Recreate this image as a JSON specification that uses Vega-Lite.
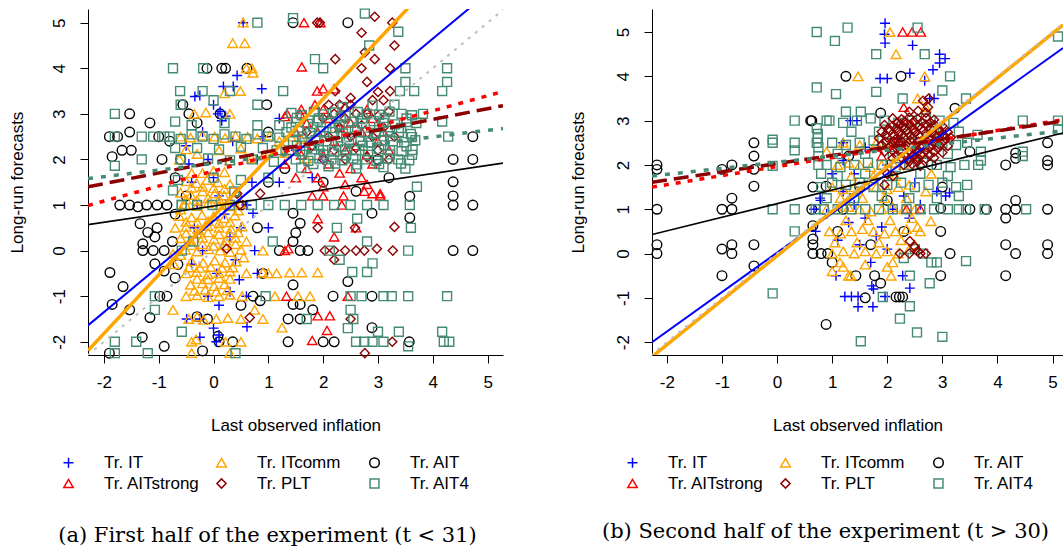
{
  "$schema": "https://vega.github.io/schema/vega-lite/v6.json",
  "background": "white",
  "padding": {"left": 8, "top": 6, "right": 0, "bottom": 0},
  "spacing": 149,
  "bounds": "flush",
  "config": {
    "view": {"stroke": null},
    "font": "Liberation Sans",
    "axis": {
      "grid": false, "domainColor": "black", "tickColor": "black", "labelColor": "black", "titleColor": "black",
      "labelFont": "Liberation Sans", "titleFont": "Liberation Sans",
      "labelFontSize": 17, "titleFontSize": 17, "titleFontWeight": "normal",
      "tickSize": 8, "domainWidth": 1, "tickWidth": 1, "labelFlush": false, "labelOverlap": false
    },
    "legend": {
      "title": null, "orient": "none", "legendX": -28, "legendY": 445, "columns": 3, "direction": "horizontal",
      "symbolSize": 80, "symbolStrokeWidth": 1.5, "labelFontSize": 17, "labelFont": "Liberation Sans", "labelColor": "black",
      "labelOffset": 27, "columnPadding": 13, "rowPadding": 3, "gridAlign": "all", "padding": 0, "labelLimit": 250
    },
    "title": {"font": "DejaVu Serif", "fontSize": 21, "fontWeight": "normal", "color": "black"}
  },
  "resolve": {
    "scale": {"color": "independent", "shape": "independent", "size": "independent", "opacity": "independent"},
    "legend": {"color": "independent", "shape": "independent"}
  },
  "datasets": {
    "a": [
      {"t":"AIT","x":-0.12,"y":4},{"t":"AIT","x":0.15,"y":4},{"t":"AIT","x":0.22,"y":4},{"t":"AIT","x":0.61,"y":4},
      {"t":"AIT","x":-1.53,"y":3},{"t":"AIT","x":-1.9,"y":2.5},{"t":"AIT","x":-1.75,"y":2.5},{"t":"AIT","x":-1.53,"y":2.6},
      {"t":"AIT","x":-1.85,"y":2.06},{"t":"AIT","x":-1.67,"y":2.2},{"t":"AIT","x":-1.5,"y":2.2},{"t":"AIT","x":-1.16,"y":2.8},
      {"t":"AIT","x":-0.94,"y":2.0},{"t":"AIT","x":-0.56,"y":3.2},{"t":"AIT","x":-0.45,"y":3.0},{"t":"AIT","x":0.12,"y":3.0},
      {"t":"AIT","x":-1.89,"y":-0.48},{"t":"AIT","x":-1.65,"y":-0.79},{"t":"AIT","x":-1.85,"y":-1.18},{"t":"AIT","x":-1.53,"y":-1.3},
      {"t":"AIT","x":-1.16,"y":-1.47},{"t":"AIT","x":-1.38,"y":0.96},{"t":"AIT","x":-1.71,"y":1.0},{"t":"AIT","x":-1.53,"y":1.0},
      {"t":"AIT","x":-1.22,"y":1.0},{"t":"AIT","x":-1.03,"y":1.0},{"t":"AIT","x":-0.85,"y":1.0},{"t":"AIT","x":-1.34,"y":0.59},
      {"t":"AIT","x":-1.03,"y":0.5},{"t":"AIT","x":-1.2,"y":0.4},{"t":"AIT","x":-1.07,"y":0.3},{"t":"AIT","x":-1.29,"y":0.15},
      {"t":"AIT","x":-1.29,"y":0.0},{"t":"AIT","x":-1.1,"y":0.0},{"t":"AIT","x":-0.9,"y":0.0},{"t":"AIT","x":-1.07,"y":-0.29},
      {"t":"AIT","x":-0.9,"y":-0.45},{"t":"AIT","x":-0.98,"y":-1.0},{"t":"AIT","x":-0.85,"y":-1.0},{"t":"AIT","x":-0.3,"y":-1.45},
      {"t":"AIT","x":-0.11,"y":-1.5},{"t":"AIT","x":0.08,"y":-1.88},{"t":"AIT","x":0.35,"y":-2.0},{"t":"AIT","x":-0.2,"y":-2.2},
      {"t":"AIT","x":4.37,"y":1.51},{"t":"AIT","x":4.37,"y":1.2},{"t":"AIT","x":4.37,"y":1.0},{"t":"AIT","x":4.73,"y":1.0},
      {"t":"AIT","x":3.58,"y":1.19},{"t":"AIT","x":3.58,"y":0.72},{"t":"AIT","x":2.89,"y":0.82},{"t":"AIT","x":1.58,"y":0.6},
      {"t":"AIT","x":1.45,"y":0.82},{"t":"AIT","x":1.5,"y":0.39},{"t":"AIT","x":1.45,"y":0.2},{"t":"AIT","x":1.58,"y":0.0},
      {"t":"AIT","x":1.72,"y":0.0},{"t":"AIT","x":4.37,"y":0.0},{"t":"AIT","x":4.73,"y":0.0},{"t":"AIT","x":2.45,"y":-0.68},
      {"t":"AIT","x":1.45,"y":-0.75},{"t":"AIT","x":2.18,"y":-1.0},{"t":"AIT","x":2.89,"y":-1.0},{"t":"AIT","x":0.72,"y":-1.0},
      {"t":"AIT","x":0.85,"y":-1.1},{"t":"AIT","x":1.45,"y":-1.18},{"t":"AIT","x":1.58,"y":-1.18},{"t":"AIT","x":1.81,"y":-1.3},
      {"t":"AIT","x":1.36,"y":-1.5},{"t":"AIT","x":1.58,"y":-1.5},{"t":"AIT","x":2.89,"y":-1.69},{"t":"AIT","x":1.36,"y":-2.0},
      {"t":"AIT","x":2.0,"y":-2.0},{"t":"AIT","x":2.2,"y":-2.0},{"t":"AIT","x":3.57,"y":-2.0},{"t":"AIT","x":0.1,"y":-2.0},
      {"t":"AIT","x":2.45,"y":5.0},{"t":"AIT","x":1.45,"y":5.0},{"t":"AIT","x":0.97,"y":3.2},{"t":"AIT","x":4.73,"y":2.5},
      {"t":"AIT","x":4.37,"y":2.0},{"t":"AIT","x":4.73,"y":2.0},{"t":"AIT","x":-0.6,"y":2.0},{"t":"AIT","x":-0.7,"y":1.6},
      {"t":"AIT","x":-0.5,"y":1.2},{"t":"AIT","x":-0.7,"y":0.8},{"t":"AIT","x":-0.8,"y":2.4},{"t":"AIT","x":-1.0,"y":2.5},
      {"t":"AIT","x":-0.3,"y":2.8},{"t":"AIT","x":0.5,"y":1.0},{"t":"AIT","x":0.8,"y":0.5},{"t":"AIT","x":1.0,"y":1.5},
      {"t":"AIT","x":1.2,"y":0.0},{"t":"AIT","x":0.9,"y":-0.5},{"t":"AIT","x":0.5,"y":-1.2},{"t":"AIT","x":-0.65,"y":-0.3},
      {"t":"AIT","x":-0.7,"y":-0.6},{"t":"AIT","x":-0.75,"y":0.2},{"t":"AIT","x":1.3,"y":1.8},{"t":"AIT","x":1.0,"y":2.6},
      {"t":"AIT","x":2.0,"y":1.5},{"t":"AIT","x":2.6,"y":1.3},{"t":"AIT","x":3.2,"y":1.6},{"t":"AIT","x":3.0,"y":2.0},
      {"t":"AIT","x":-1.9,"y":-2.25},{"t":"AIT","x":-1.3,"y":-1.9},{"t":"AIT","x":-0.9,"y":-2.1},

      {"t":"IT","x":0.54,"y":5.0},{"t":"IT","x":0.43,"y":3.84},{"t":"IT","x":0.36,"y":3.6},{"t":"IT","x":0.18,"y":3.6},
      {"t":"IT","x":-0.34,"y":3.38},{"t":"IT","x":-0.25,"y":3.4},{"t":"IT","x":0.0,"y":3.2},{"t":"IT","x":0.08,"y":3.0},
      {"t":"IT","x":0.22,"y":2.95},{"t":"IT","x":0.88,"y":3.55},{"t":"IT","x":1.2,"y":2.9},{"t":"IT","x":0.12,"y":3.05},
      {"t":"IT","x":0.15,"y":2.85},{"t":"IT","x":-0.5,"y":2.3},{"t":"IT","x":-0.45,"y":1.9},{"t":"IT","x":-0.4,"y":1.5},
      {"t":"IT","x":-0.3,"y":1.0},{"t":"IT","x":-0.35,"y":0.5},{"t":"IT","x":-0.2,"y":0.0},{"t":"IT","x":-0.4,"y":-0.3},
      {"t":"IT","x":-0.1,"y":2.0},{"t":"IT","x":0.0,"y":1.6},{"t":"IT","x":0.1,"y":1.2},{"t":"IT","x":0.2,"y":0.8},
      {"t":"IT","x":0.3,"y":0.3},{"t":"IT","x":0.4,"y":-0.2},{"t":"IT","x":0.5,"y":0.5},{"t":"IT","x":0.6,"y":1.0},
      {"t":"IT","x":0.7,"y":1.5},{"t":"IT","x":0.8,"y":2.0},{"t":"IT","x":0.9,"y":2.5},{"t":"IT","x":0.06,"y":-0.5},
      {"t":"IT","x":0.47,"y":-0.64},{"t":"IT","x":0.3,"y":-0.9},{"t":"IT","x":-0.1,"y":-1.0},{"t":"IT","x":0.1,"y":-1.2},
      {"t":"IT","x":-0.49,"y":-1.5},{"t":"IT","x":-0.25,"y":-1.5},{"t":"IT","x":0.0,"y":-1.7},{"t":"IT","x":-0.25,"y":-1.9},
      {"t":"IT","x":0.05,"y":-2.0},{"t":"IT","x":0.1,"y":-1.85},{"t":"IT","x":0.61,"y":-1.67},{"t":"IT","x":0.72,"y":0.82},
      {"t":"IT","x":0.75,"y":0.0},{"t":"IT","x":1.0,"y":0.5},{"t":"IT","x":1.2,"y":1.5},{"t":"IT","x":1.5,"y":2.2},
      {"t":"IT","x":2.5,"y":2.5},{"t":"IT","x":2.0,"y":2.0},{"t":"IT","x":1.8,"y":1.6},{"t":"IT","x":0.35,"y":2.4},
      {"t":"IT","x":-0.2,"y":2.6},{"t":"IT","x":0.6,"y":-1.0},{"t":"IT","x":0.8,"y":-0.5},

      {"t":"ITcomm","x":0.54,"y":5.0},{"t":"ITcomm","x":0.35,"y":4.55},{"t":"ITcomm","x":0.57,"y":4.55},{"t":"ITcomm","x":0.6,"y":4.0},
      {"t":"ITcomm","x":0.7,"y":4.0},{"t":"ITcomm","x":0.2,"y":3.45},{"t":"ITcomm","x":0.49,"y":3.5},{"t":"ITcomm","x":-0.35,"y":3.0},
      {"t":"ITcomm","x":-0.14,"y":3.03},{"t":"ITcomm","x":0.3,"y":3.0},{"t":"ITcomm","x":0.72,"y":3.9},
      {"t":"ITcomm","x":-0.6,"y":2.5},{"t":"ITcomm","x":-0.42,"y":2.48},{"t":"ITcomm","x":-0.2,"y":2.52},{"t":"ITcomm","x":0.02,"y":2.5},
      {"t":"ITcomm","x":0.21,"y":2.47},{"t":"ITcomm","x":0.4,"y":2.52},{"t":"ITcomm","x":0.62,"y":2.5},{"t":"ITcomm","x":0.8,"y":2.46},
      {"t":"ITcomm","x":1.02,"y":2.52},{"t":"ITcomm","x":1.2,"y":2.4},{"t":"ITcomm","x":1.41,"y":2.5},{"t":"ITcomm","x":1.6,"y":2.45},
      {"t":"ITcomm","x":-0.5,"y":2.22},{"t":"ITcomm","x":-0.3,"y":2.12},{"t":"ITcomm","x":0.1,"y":2.2},{"t":"ITcomm","x":0.5,"y":2.24},
      {"t":"ITcomm","x":0.92,"y":2.1},{"t":"ITcomm","x":1.3,"y":2.14},{"t":"ITcomm","x":1.7,"y":2.02},{"t":"ITcomm","x":-0.62,"y":2.0},
      {"t":"ITcomm","x":0.3,"y":1.98},{"t":"ITcomm","x":0.7,"y":2.02},
      {"t":"ITcomm","x":-0.5,"y":1.52},{"t":"ITcomm","x":-0.31,"y":1.48},{"t":"ITcomm","x":-0.12,"y":1.55},{"t":"ITcomm","x":0.08,"y":1.5},{"t":"ITcomm","x":0.3,"y":1.46},
      {"t":"ITcomm","x":-0.6,"y":1.27},{"t":"ITcomm","x":-0.41,"y":1.22},{"t":"ITcomm","x":-0.2,"y":1.3},{"t":"ITcomm","x":0.02,"y":1.25},{"t":"ITcomm","x":0.19,"y":1.21},{"t":"ITcomm","x":0.42,"y":1.28},
      {"t":"ITcomm","x":-0.52,"y":1.02},{"t":"ITcomm","x":-0.3,"y":0.98},{"t":"ITcomm","x":-0.1,"y":1.04},{"t":"ITcomm","x":0.11,"y":1.0},{"t":"ITcomm","x":0.31,"y":0.97},{"t":"ITcomm","x":0.5,"y":1.03},
      {"t":"ITcomm","x":-0.63,"y":0.76},{"t":"ITcomm","x":-0.4,"y":0.73},{"t":"ITcomm","x":-0.21,"y":0.78},{"t":"ITcomm","x":0.0,"y":0.75},{"t":"ITcomm","x":0.2,"y":0.71},{"t":"ITcomm","x":0.39,"y":0.77},
      {"t":"ITcomm","x":-0.5,"y":0.52},{"t":"ITcomm","x":-0.29,"y":0.48},{"t":"ITcomm","x":-0.11,"y":0.54},{"t":"ITcomm","x":0.1,"y":0.5},{"t":"ITcomm","x":0.32,"y":0.47},{"t":"ITcomm","x":0.52,"y":0.53},
      {"t":"ITcomm","x":-0.6,"y":0.27},{"t":"ITcomm","x":-0.42,"y":0.23},{"t":"ITcomm","x":-0.2,"y":0.28},{"t":"ITcomm","x":0.01,"y":0.25},{"t":"ITcomm","x":0.22,"y":0.22},{"t":"ITcomm","x":0.4,"y":0.28},
      {"t":"ITcomm","x":-0.51,"y":0.02},{"t":"ITcomm","x":-0.3,"y":-0.02},{"t":"ITcomm","x":-0.09,"y":0.03},{"t":"ITcomm","x":0.12,"y":0.0},{"t":"ITcomm","x":0.3,"y":-0.03},{"t":"ITcomm","x":0.5,"y":0.02},{"t":"ITcomm","x":0.9,"y":0.0},
      {"t":"ITcomm","x":-0.4,"y":-0.23},{"t":"ITcomm","x":-0.19,"y":-0.27},{"t":"ITcomm","x":0.02,"y":-0.22},{"t":"ITcomm","x":0.21,"y":-0.26},{"t":"ITcomm","x":0.41,"y":-0.24},
      {"t":"ITcomm","x":-0.5,"y":-0.5},{"t":"ITcomm","x":-0.31,"y":-0.47},{"t":"ITcomm","x":-0.1,"y":-0.52},{"t":"ITcomm","x":0.1,"y":-0.5},{"t":"ITcomm","x":0.3,"y":-0.46},{"t":"ITcomm","x":0.6,"y":-0.5},
      {"t":"ITcomm","x":0.9,"y":-0.48},{"t":"ITcomm","x":1.0,"y":-0.5},{"t":"ITcomm","x":1.15,"y":-0.5},{"t":"ITcomm","x":1.39,"y":-0.48},{"t":"ITcomm","x":1.61,"y":-0.48},{"t":"ITcomm","x":1.9,"y":-0.48},
      {"t":"ITcomm","x":-0.42,"y":-0.75},{"t":"ITcomm","x":-0.2,"y":-0.72},{"t":"ITcomm","x":0.01,"y":-0.78},{"t":"ITcomm","x":0.2,"y":-0.74},
      {"t":"ITcomm","x":-0.5,"y":-1.0},{"t":"ITcomm","x":-0.3,"y":-0.98},{"t":"ITcomm","x":-0.1,"y":-1.02},{"t":"ITcomm","x":0.1,"y":-1.0},{"t":"ITcomm","x":0.3,"y":-0.97},{"t":"ITcomm","x":0.52,"y":-1.0},
      {"t":"ITcomm","x":1.12,"y":-1.0},{"t":"ITcomm","x":1.54,"y":-1.0},{"t":"ITcomm","x":1.76,"y":-1.0},
      {"t":"ITcomm","x":-0.45,"y":-1.5},{"t":"ITcomm","x":-0.3,"y":-1.45},{"t":"ITcomm","x":-0.18,"y":-1.52},{"t":"ITcomm","x":0.05,"y":-1.5},{"t":"ITcomm","x":0.26,"y":-1.48},{"t":"ITcomm","x":0.5,"y":-1.5},
      {"t":"ITcomm","x":0.9,"y":-1.5},{"t":"ITcomm","x":0.75,"y":-1.3},{"t":"ITcomm","x":1.25,"y":-1.69},
      {"t":"ITcomm","x":-0.4,"y":-2.0},{"t":"ITcomm","x":-0.32,"y":-1.95},{"t":"ITcomm","x":0.22,"y":-2.0},{"t":"ITcomm","x":0.5,"y":-2.0},{"t":"ITcomm","x":-0.4,"y":-2.25},{"t":"ITcomm","x":0.3,"y":-2.25},
      {"t":"ITcomm","x":-0.74,"y":-0.07},{"t":"ITcomm","x":-0.72,"y":-0.3},{"t":"ITcomm","x":-0.74,"y":-1.3},{"t":"ITcomm","x":-0.7,"y":0.5},
      {"t":"ITcomm","x":-0.4,"y":1.38},{"t":"ITcomm","x":-0.2,"y":1.4},{"t":"ITcomm","x":0.0,"y":1.37},{"t":"ITcomm","x":0.2,"y":1.35},
      {"t":"ITcomm","x":-0.5,"y":1.12},{"t":"ITcomm","x":-0.3,"y":1.1},{"t":"ITcomm","x":-0.1,"y":1.15},{"t":"ITcomm","x":0.1,"y":1.12},{"t":"ITcomm","x":0.3,"y":1.1},
      {"t":"ITcomm","x":-0.5,"y":0.63},{"t":"ITcomm","x":-0.3,"y":0.62},{"t":"ITcomm","x":-0.1,"y":0.65},{"t":"ITcomm","x":0.1,"y":0.6},{"t":"ITcomm","x":0.3,"y":0.62},
      {"t":"ITcomm","x":-0.5,"y":0.38},{"t":"ITcomm","x":-0.3,"y":0.37},{"t":"ITcomm","x":-0.1,"y":0.4},{"t":"ITcomm","x":0.1,"y":0.36},{"t":"ITcomm","x":0.3,"y":0.38},
      {"t":"ITcomm","x":-0.4,"y":0.12},{"t":"ITcomm","x":-0.2,"y":0.14},{"t":"ITcomm","x":0.0,"y":0.1},{"t":"ITcomm","x":0.2,"y":0.12},{"t":"ITcomm","x":0.4,"y":0.14},
      {"t":"ITcomm","x":-0.45,"y":-0.37},{"t":"ITcomm","x":-0.25,"y":-0.38},{"t":"ITcomm","x":-0.05,"y":-0.36},{"t":"ITcomm","x":0.15,"y":-0.38},{"t":"ITcomm","x":0.35,"y":-0.37},
      {"t":"ITcomm","x":-0.3,"y":-0.62},{"t":"ITcomm","x":-0.1,"y":-0.63},{"t":"ITcomm","x":0.1,"y":-0.6},{"t":"ITcomm","x":0.3,"y":-0.62},
      {"t":"ITcomm","x":-0.35,"y":-0.88},{"t":"ITcomm","x":-0.15,"y":-0.86},{"t":"ITcomm","x":0.05,"y":-0.9},{"t":"ITcomm","x":0.25,"y":-0.87},
      {"t":"ITcomm","x":0.45,"y":0.88},{"t":"ITcomm","x":0.45,"y":0.4},{"t":"ITcomm","x":-0.6,"y":0.9},{"t":"ITcomm","x":-0.6,"y":-0.1},
      {"t":"ITcomm","x":0.55,"y":-0.15},{"t":"ITcomm","x":0.6,"y":0.2},{"t":"ITcomm","x":-0.2,"y":1.7},{"t":"ITcomm","x":0.0,"y":1.75},
      {"t":"ITcomm","x":0.2,"y":1.72},{"t":"ITcomm","x":-0.4,"y":1.7},

      {"t":"AITstrong","x":1.65,"y":5.0},{"t":"AITstrong","x":1.95,"y":5.0},{"t":"AITstrong","x":1.61,"y":4.03},{"t":"AITstrong","x":1.89,"y":3.5},
      {"t":"AITstrong","x":2.2,"y":3.55},{"t":"AITstrong","x":2.0,"y":3.55},{"t":"AITstrong","x":1.85,"y":3.2},{"t":"AITstrong","x":1.58,"y":3.0},
      {"t":"AITstrong","x":1.34,"y":3.0},{"t":"AITstrong","x":1.3,"y":2.94},{"t":"AITstrong","x":3.04,"y":1.25},{"t":"AITstrong","x":2.9,"y":1.25},
      {"t":"AITstrong","x":2.75,"y":1.3},{"t":"AITstrong","x":1.36,"y":0.04},{"t":"AITstrong","x":1.3,"y":0.0},{"t":"AITstrong","x":1.8,"y":1.2},
      {"t":"AITstrong","x":2.0,"y":1.2},{"t":"AITstrong","x":2.37,"y":1.2},{"t":"AITstrong","x":3.04,"y":1.2},{"t":"AITstrong","x":2.34,"y":1.0},
      {"t":"AITstrong","x":1.33,"y":-1.0},{"t":"AITstrong","x":2.45,"y":-1.0},{"t":"AITstrong","x":1.9,"y":-1.43},{"t":"AITstrong","x":2.12,"y":-1.43},
      {"t":"AITstrong","x":2.07,"y":-1.75},{"t":"AITstrong","x":1.8,"y":-1.97},{"t":"AITstrong","x":2.2,"y":0.3},{"t":"AITstrong","x":2.6,"y":0.5},
      {"t":"AITstrong","x":1.9,"y":0.7},
      {"t":"AITstrong","x":1.5,"y":1.6},{"t":"AITstrong","x":1.7,"y":1.8},{"t":"AITstrong","x":1.9,"y":1.6},{"t":"AITstrong","x":2.1,"y":1.9},
      {"t":"AITstrong","x":2.3,"y":1.7},{"t":"AITstrong","x":2.5,"y":1.8},{"t":"AITstrong","x":2.7,"y":1.6},{"t":"AITstrong","x":2.9,"y":1.9},
      {"t":"AITstrong","x":1.6,"y":2.1},{"t":"AITstrong","x":1.8,"y":2.3},{"t":"AITstrong","x":2.0,"y":2.1},{"t":"AITstrong","x":2.2,"y":2.4},
      {"t":"AITstrong","x":2.4,"y":2.2},{"t":"AITstrong","x":2.6,"y":2.3},{"t":"AITstrong","x":2.8,"y":2.1},{"t":"AITstrong","x":3.0,"y":2.4},
      {"t":"AITstrong","x":1.5,"y":2.6},{"t":"AITstrong","x":1.7,"y":2.8},{"t":"AITstrong","x":1.9,"y":2.6},{"t":"AITstrong","x":2.1,"y":2.9},
      {"t":"AITstrong","x":2.3,"y":2.7},{"t":"AITstrong","x":2.5,"y":2.8},{"t":"AITstrong","x":2.7,"y":2.6},{"t":"AITstrong","x":2.9,"y":2.9},
      {"t":"AITstrong","x":1.6,"y":3.1},{"t":"AITstrong","x":2.0,"y":3.1},{"t":"AITstrong","x":2.4,"y":3.15},{"t":"AITstrong","x":2.8,"y":3.1},
      {"t":"AITstrong","x":1.4,"y":2.2},{"t":"AITstrong","x":1.3,"y":1.9},{"t":"AITstrong","x":3.1,"y":2.6},{"t":"AITstrong","x":3.2,"y":2.2},
      {"t":"AITstrong","x":2.0,"y":1.4},{"t":"AITstrong","x":2.4,"y":1.45},{"t":"AITstrong","x":2.8,"y":1.45},

      {"t":"PLT","x":1.89,"y":5.0},{"t":"PLT","x":1.94,"y":5.0},{"t":"PLT","x":2.94,"y":5.13},{"t":"PLT","x":3.26,"y":5.0},
      {"t":"PLT","x":2.7,"y":4.78},{"t":"PLT","x":3.3,"y":4.5},{"t":"PLT","x":2.22,"y":4.2},{"t":"PLT","x":2.94,"y":4.2},
      {"t":"PLT","x":2.76,"y":4.35},{"t":"PLT","x":2.8,"y":3.7},{"t":"PLT","x":3.0,"y":3.48},{"t":"PLT","x":3.22,"y":3.5},
      {"t":"PLT","x":3.22,"y":4.0},{"t":"PLT","x":2.7,"y":4.0},{"t":"PLT","x":2.22,"y":3.5},{"t":"PLT","x":2.1,"y":3.2},
      {"t":"PLT","x":2.3,"y":3.2},{"t":"PLT","x":2.5,"y":3.2},{"t":"PLT","x":2.03,"y":0.0},{"t":"PLT","x":2.2,"y":0.0},
      {"t":"PLT","x":2.4,"y":0.0},{"t":"PLT","x":2.6,"y":0.0},{"t":"PLT","x":2.75,"y":0.0},{"t":"PLT","x":3.27,"y":0.0},
      {"t":"PLT","x":2.98,"y":0.04},{"t":"PLT","x":2.58,"y":0.5},{"t":"PLT","x":3.3,"y":0.52},{"t":"PLT","x":2.5,"y":-1.5},
      {"t":"PLT","x":3.26,"y":-2.0},{"t":"PLT","x":2.76,"y":-2.25},{"t":"PLT","x":0.24,"y":0.04},{"t":"PLT","x":0.43,"y":1.25},
      {"t":"PLT","x":0.85,"y":1.25},{"t":"PLT","x":0.66,"y":-1.47},{"t":"PLT","x":0.48,"y":1.0},{"t":"PLT","x":1.9,"y":0.5},
      {"t":"PLT","x":2.2,"y":-0.2},
      {"t":"PLT","x":2.0,"y":2.0},{"t":"PLT","x":2.2,"y":2.2},{"t":"PLT","x":2.4,"y":2.0},{"t":"PLT","x":2.6,"y":2.25},
      {"t":"PLT","x":2.8,"y":2.05},{"t":"PLT","x":3.0,"y":2.2},{"t":"PLT","x":3.2,"y":2.0},{"t":"PLT","x":2.1,"y":2.5},
      {"t":"PLT","x":2.3,"y":2.7},{"t":"PLT","x":2.5,"y":2.5},{"t":"PLT","x":2.7,"y":2.75},{"t":"PLT","x":2.9,"y":2.5},
      {"t":"PLT","x":3.1,"y":2.7},{"t":"PLT","x":3.3,"y":2.5},{"t":"PLT","x":2.0,"y":2.9},{"t":"PLT","x":2.2,"y":3.0},
      {"t":"PLT","x":2.4,"y":2.9},{"t":"PLT","x":2.6,"y":3.0},{"t":"PLT","x":2.8,"y":3.0},{"t":"PLT","x":3.0,"y":2.95},
      {"t":"PLT","x":3.2,"y":3.05},{"t":"PLT","x":1.8,"y":2.3},{"t":"PLT","x":1.7,"y":2.6},{"t":"PLT","x":2.5,"y":3.35},
      {"t":"PLT","x":2.9,"y":3.3},{"t":"PLT","x":3.1,"y":3.3},

      {"t":"AIT4","x":1.42,"y":3.02},{"t":"AIT4","x":1.61,"y":2.97},{"t":"AIT4","x":1.83,"y":3.05},{"t":"AIT4","x":2.01,"y":2.99},
      {"t":"AIT4","x":2.22,"y":3.03},{"t":"AIT4","x":2.41,"y":2.96},{"t":"AIT4","x":2.63,"y":3.04},{"t":"AIT4","x":2.8,"y":3.0},
      {"t":"AIT4","x":3.02,"y":2.98},{"t":"AIT4","x":3.21,"y":3.05},{"t":"AIT4","x":3.43,"y":3.0},{"t":"AIT4","x":3.62,"y":2.97},
      {"t":"AIT4","x":1.5,"y":2.82},{"t":"AIT4","x":1.72,"y":2.78},{"t":"AIT4","x":1.9,"y":2.85},{"t":"AIT4","x":2.12,"y":2.8},
      {"t":"AIT4","x":2.3,"y":2.76},{"t":"AIT4","x":2.52,"y":2.83},{"t":"AIT4","x":2.71,"y":2.79},{"t":"AIT4","x":2.92,"y":2.84},
      {"t":"AIT4","x":3.1,"y":2.8},{"t":"AIT4","x":3.31,"y":2.77},{"t":"AIT4","x":3.52,"y":2.82},{"t":"AIT4","x":3.7,"y":2.8},
      {"t":"AIT4","x":1.33,"y":2.6},{"t":"AIT4","x":1.55,"y":2.63},{"t":"AIT4","x":1.76,"y":2.58},{"t":"AIT4","x":1.95,"y":2.62},
      {"t":"AIT4","x":2.17,"y":2.6},{"t":"AIT4","x":2.36,"y":2.57},{"t":"AIT4","x":2.58,"y":2.64},{"t":"AIT4","x":2.77,"y":2.6},
      {"t":"AIT4","x":2.96,"y":2.58},{"t":"AIT4","x":3.18,"y":2.63},{"t":"AIT4","x":3.38,"y":2.6},{"t":"AIT4","x":3.6,"y":2.56},
      {"t":"AIT4","x":1.45,"y":2.4},{"t":"AIT4","x":1.66,"y":2.37},{"t":"AIT4","x":1.86,"y":2.42},{"t":"AIT4","x":2.06,"y":2.4},
      {"t":"AIT4","x":2.27,"y":2.38},{"t":"AIT4","x":2.47,"y":2.43},{"t":"AIT4","x":2.68,"y":2.4},{"t":"AIT4","x":2.87,"y":2.37},
      {"t":"AIT4","x":3.08,"y":2.42},{"t":"AIT4","x":3.27,"y":2.4},{"t":"AIT4","x":3.48,"y":2.38},{"t":"AIT4","x":3.68,"y":2.42},
      {"t":"AIT4","x":1.38,"y":2.2},{"t":"AIT4","x":1.58,"y":2.18},{"t":"AIT4","x":1.8,"y":2.22},{"t":"AIT4","x":2.0,"y":2.2},
      {"t":"AIT4","x":2.2,"y":2.17},{"t":"AIT4","x":2.4,"y":2.22},{"t":"AIT4","x":2.6,"y":2.2},{"t":"AIT4","x":2.82,"y":2.18},
      {"t":"AIT4","x":3.02,"y":2.23},{"t":"AIT4","x":3.22,"y":2.2},{"t":"AIT4","x":3.43,"y":2.18},{"t":"AIT4","x":3.63,"y":2.21},
      {"t":"AIT4","x":1.5,"y":2.0},{"t":"AIT4","x":1.73,"y":1.97},{"t":"AIT4","x":1.93,"y":2.02},{"t":"AIT4","x":2.15,"y":2.0},
      {"t":"AIT4","x":2.35,"y":1.98},{"t":"AIT4","x":2.55,"y":2.02},{"t":"AIT4","x":2.76,"y":2.0},{"t":"AIT4","x":2.97,"y":1.97},
      {"t":"AIT4","x":3.17,"y":2.02},{"t":"AIT4","x":3.37,"y":2.0},{"t":"AIT4","x":3.57,"y":1.98},
      {"t":"AIT4","x":1.6,"y":1.82},{"t":"AIT4","x":2.1,"y":1.85},{"t":"AIT4","x":2.6,"y":1.8},{"t":"AIT4","x":3.1,"y":1.83},
      {"t":"AIT4","x":3.5,"y":1.8},{"t":"AIT4","x":2.35,"y":3.15},{"t":"AIT4","x":2.9,"y":3.18},{"t":"AIT4","x":3.3,"y":3.2},
      {"t":"AIT4","x":1.52,"y":2.91},{"t":"AIT4","x":1.92,"y":2.9},{"t":"AIT4","x":2.32,"y":2.92},{"t":"AIT4","x":2.72,"y":2.9},{"t":"AIT4","x":3.12,"y":2.91},{"t":"AIT4","x":3.52,"y":2.9},
      {"t":"AIT4","x":1.42,"y":2.7},{"t":"AIT4","x":1.82,"y":2.71},{"t":"AIT4","x":2.22,"y":2.69},{"t":"AIT4","x":2.62,"y":2.7},{"t":"AIT4","x":3.02,"y":2.71},{"t":"AIT4","x":3.42,"y":2.69},
      {"t":"AIT4","x":1.62,"y":2.5},{"t":"AIT4","x":2.02,"y":2.51},{"t":"AIT4","x":2.42,"y":2.49},{"t":"AIT4","x":2.82,"y":2.5},{"t":"AIT4","x":3.22,"y":2.51},{"t":"AIT4","x":3.62,"y":2.49},
      {"t":"AIT4","x":1.52,"y":2.3},{"t":"AIT4","x":1.92,"y":2.31},{"t":"AIT4","x":2.32,"y":2.29},{"t":"AIT4","x":2.72,"y":2.3},{"t":"AIT4","x":3.12,"y":2.31},{"t":"AIT4","x":3.52,"y":2.29},
      {"t":"AIT4","x":1.62,"y":2.1},{"t":"AIT4","x":2.02,"y":2.11},{"t":"AIT4","x":2.42,"y":2.09},{"t":"AIT4","x":2.82,"y":2.1},{"t":"AIT4","x":3.22,"y":2.11},{"t":"AIT4","x":3.62,"y":2.1},
      {"t":"AIT4","x":1.82,"y":1.9},{"t":"AIT4","x":2.22,"y":1.91},{"t":"AIT4","x":2.62,"y":1.89},{"t":"AIT4","x":3.02,"y":1.9},{"t":"AIT4","x":3.42,"y":1.91},
      {"t":"AIT4","x":-0.8,"y":2.5},{"t":"AIT4","x":-0.6,"y":2.45},{"t":"AIT4","x":-0.4,"y":2.55},{"t":"AIT4","x":-0.2,"y":2.5},
      {"t":"AIT4","x":0.0,"y":2.45},{"t":"AIT4","x":0.2,"y":2.55},{"t":"AIT4","x":0.4,"y":2.5},{"t":"AIT4","x":0.6,"y":2.45},
      {"t":"AIT4","x":0.8,"y":2.55},{"t":"AIT4","x":1.0,"y":2.5},{"t":"AIT4","x":1.2,"y":2.48},{"t":"AIT4","x":-0.7,"y":2.25},
      {"t":"AIT4","x":-0.3,"y":2.25},{"t":"AIT4","x":0.1,"y":2.22},{"t":"AIT4","x":0.5,"y":2.28},{"t":"AIT4","x":0.9,"y":2.25},
      {"t":"AIT4","x":1.15,"y":2.2},{"t":"AIT4","x":-0.6,"y":2.0},{"t":"AIT4","x":-0.1,"y":2.02},{"t":"AIT4","x":0.3,"y":1.98},
      {"t":"AIT4","x":0.7,"y":2.0},{"t":"AIT4","x":1.1,"y":1.95},{"t":"AIT4","x":-0.4,"y":2.75},{"t":"AIT4","x":0.2,"y":2.8},
      {"t":"AIT4","x":0.8,"y":2.75},{"t":"AIT4","x":1.2,"y":2.75},{"t":"AIT4","x":-0.65,"y":1.55},{"t":"AIT4","x":0.0,"y":1.6},
      {"t":"AIT4","x":0.5,"y":1.55},{"t":"AIT4","x":1.0,"y":1.6},
      {"t":"AIT4","x":-0.58,"y":1.0},{"t":"AIT4","x":-0.3,"y":1.0},{"t":"AIT4","x":-0.02,"y":1.0},{"t":"AIT4","x":0.38,"y":1.3},
      {"t":"AIT4","x":0.3,"y":1.0},{"t":"AIT4","x":0.7,"y":1.0},{"t":"AIT4","x":1.0,"y":1.0},{"t":"AIT4","x":1.3,"y":1.0},
      {"t":"AIT4","x":1.6,"y":1.0},{"t":"AIT4","x":1.9,"y":1.0},{"t":"AIT4","x":2.2,"y":1.0},{"t":"AIT4","x":2.5,"y":1.0},
      {"t":"AIT4","x":2.8,"y":1.0},{"t":"AIT4","x":3.1,"y":1.0},
      {"t":"AIT4","x":-1.8,"y":3.0},{"t":"AIT4","x":-1.8,"y":2.5},{"t":"AIT4","x":-1.31,"y":2.5},{"t":"AIT4","x":-1.1,"y":2.5},
      {"t":"AIT4","x":-0.9,"y":2.5},{"t":"AIT4","x":-1.31,"y":2.0},{"t":"AIT4","x":-1.8,"y":1.86},{"t":"AIT4","x":-0.74,"y":4.0},
      {"t":"AIT4","x":-0.61,"y":3.5},{"t":"AIT4","x":-0.6,"y":3.2},{"t":"AIT4","x":-0.7,"y":2.83},{"t":"AIT4","x":-0.19,"y":4.0},
      {"t":"AIT4","x":-0.2,"y":3.5},{"t":"AIT4","x":0.3,"y":3.5},{"t":"AIT4","x":0.0,"y":3.3},{"t":"AIT4","x":0.8,"y":5.0},
      {"t":"AIT4","x":0.8,"y":3.2},{"t":"AIT4","x":1.45,"y":5.1},{"t":"AIT4","x":2.76,"y":5.2},{"t":"AIT4","x":2.84,"y":4.5},
      {"t":"AIT4","x":3.37,"y":4.8},{"t":"AIT4","x":1.85,"y":4.2},{"t":"AIT4","x":2.0,"y":4.0},{"t":"AIT4","x":4.26,"y":4.0},
      {"t":"AIT4","x":4.26,"y":3.7},{"t":"AIT4","x":3.5,"y":4.0},{"t":"AIT4","x":3.5,"y":3.7},{"t":"AIT4","x":1.27,"y":3.5},
      {"t":"AIT4","x":3.4,"y":3.5},{"t":"AIT4","x":3.66,"y":3.5},{"t":"AIT4","x":4.17,"y":3.5},{"t":"AIT4","x":3.82,"y":3.0},
      {"t":"AIT4","x":4.17,"y":2.83},{"t":"AIT4","x":4.28,"y":2.5},{"t":"AIT4","x":3.71,"y":1.4},{"t":"AIT4","x":3.58,"y":1.0},
      {"t":"AIT4","x":2.62,"y":0.7},{"t":"AIT4","x":2.25,"y":0.5},{"t":"AIT4","x":3.6,"y":0.5},{"t":"AIT4","x":1.08,"y":0.2},
      {"t":"AIT4","x":2.8,"y":0.2},{"t":"AIT4","x":2.12,"y":0.0},{"t":"AIT4","x":3.55,"y":0.0},{"t":"AIT4","x":2.3,"y":-0.2},
      {"t":"AIT4","x":2.9,"y":-0.28},{"t":"AIT4","x":2.53,"y":-0.47},{"t":"AIT4","x":2.8,"y":-0.47},{"t":"AIT4","x":2.5,"y":-1.0},
      {"t":"AIT4","x":2.7,"y":-1.0},{"t":"AIT4","x":3.1,"y":-1.0},{"t":"AIT4","x":3.25,"y":-1.0},{"t":"AIT4","x":3.55,"y":-1.0},
      {"t":"AIT4","x":4.26,"y":-1.0},{"t":"AIT4","x":0.95,"y":-1.0},{"t":"AIT4","x":1.7,"y":-1.5},{"t":"AIT4","x":2.5,"y":-1.3},
      {"t":"AIT4","x":2.55,"y":-1.5},{"t":"AIT4","x":2.45,"y":-1.7},{"t":"AIT4","x":3.0,"y":-1.78},{"t":"AIT4","x":3.38,"y":-1.78},
      {"t":"AIT4","x":4.17,"y":-1.78},{"t":"AIT4","x":2.6,"y":-2.0},{"t":"AIT4","x":2.75,"y":-2.0},{"t":"AIT4","x":2.9,"y":-2.0},
      {"t":"AIT4","x":3.1,"y":-2.0},{"t":"AIT4","x":4.2,"y":-2.0},{"t":"AIT4","x":4.3,"y":-2.0},{"t":"AIT4","x":3.55,"y":-2.1},
      {"t":"AIT4","x":-1.07,"y":-1.3},{"t":"AIT4","x":-1.07,"y":-1.0},{"t":"AIT4","x":-1.8,"y":-2.0},{"t":"AIT4","x":-1.41,"y":-2.0},
      {"t":"AIT4","x":-0.58,"y":-1.78},{"t":"AIT4","x":-0.58,"y":0.0},{"t":"AIT4","x":-0.37,"y":0.2},{"t":"AIT4","x":-0.74,"y":1.32},
      {"t":"AIT4","x":-0.58,"y":1.0},{"t":"AIT4","x":-1.8,"y":-2.25},{"t":"AIT4","x":-1.2,"y":-2.25},{"t":"AIT4","x":0.4,"y":-2.25}
    ],
    "b": [
      {"t":"AIT","x":-2.18,"y":2.0},{"t":"AIT","x":-2.18,"y":1.9},{"t":"AIT","x":-1.0,"y":1.9},{"t":"AIT","x":-0.82,"y":2.0},
      {"t":"AIT","x":-0.82,"y":1.25},{"t":"AIT","x":-0.42,"y":2.5},{"t":"AIT","x":-0.42,"y":2.2},{"t":"AIT","x":-0.42,"y":1.9},
      {"t":"AIT","x":-0.42,"y":1.52},{"t":"AIT","x":0.63,"y":3.0},{"t":"AIT","x":0.65,"y":1.5},{"t":"AIT","x":-2.18,"y":1.0},
      {"t":"AIT","x":-2.18,"y":0.2},{"t":"AIT","x":-2.18,"y":0.0},{"t":"AIT","x":-1.0,"y":1.0},{"t":"AIT","x":-0.82,"y":1.0},
      {"t":"AIT","x":-1.0,"y":0.1},{"t":"AIT","x":-0.82,"y":0.2},{"t":"AIT","x":-0.82,"y":0.0},{"t":"AIT","x":-1.0,"y":-0.5},
      {"t":"AIT","x":-0.42,"y":0.2},{"t":"AIT","x":-0.42,"y":-0.28},{"t":"AIT","x":0.63,"y":1.0},{"t":"AIT","x":0.65,"y":0.63},
      {"t":"AIT","x":0.65,"y":0.33},{"t":"AIT","x":0.65,"y":0.2},{"t":"AIT","x":0.65,"y":0.0},{"t":"AIT","x":4.33,"y":1.2},
      {"t":"AIT","x":4.15,"y":1.0},{"t":"AIT","x":4.33,"y":1.0},{"t":"AIT","x":4.91,"y":1.0},{"t":"AIT","x":4.15,"y":0.8},
      {"t":"AIT","x":4.15,"y":0.2},{"t":"AIT","x":4.33,"y":0.0},{"t":"AIT","x":4.91,"y":0.2},{"t":"AIT","x":4.91,"y":0.0},
      {"t":"AIT","x":4.15,"y":-0.5},{"t":"AIT","x":2.97,"y":1.02},{"t":"AIT","x":2.97,"y":0.5},{"t":"AIT","x":3.14,"y":0.0},
      {"t":"AIT","x":2.97,"y":-0.5},{"t":"AIT","x":2.16,"y":-0.98},{"t":"AIT","x":2.22,"y":-0.98},{"t":"AIT","x":2.28,"y":-0.98},
      {"t":"AIT","x":1.6,"y":-1.0},{"t":"AIT","x":0.89,"y":-1.6},{"t":"AIT","x":1.43,"y":-0.5},{"t":"AIT","x":1.77,"y":-0.5},
      {"t":"AIT","x":1.88,"y":-0.67},{"t":"AIT","x":0.8,"y":0.0},{"t":"AIT","x":0.92,"y":0.0},{"t":"AIT","x":1.25,"y":4.0},
      {"t":"AIT","x":2.25,"y":4.0},{"t":"AIT","x":0.61,"y":3.0},{"t":"AIT","x":1.88,"y":3.17},{"t":"AIT","x":3.23,"y":3.28},
      {"t":"AIT","x":4.91,"y":2.5},{"t":"AIT","x":4.33,"y":2.27},{"t":"AIT","x":4.33,"y":2.15},{"t":"AIT","x":4.15,"y":2.0},
      {"t":"AIT","x":4.91,"y":2.0},{"t":"AIT","x":4.91,"y":2.1},{"t":"AIT","x":0.89,"y":1.52},{"t":"AIT","x":3.5,"y":1.0},
      {"t":"AIT","x":3.8,"y":1.0},{"t":"AIT","x":1.2,"y":1.0},{"t":"AIT","x":1.5,"y":1.5},{"t":"AIT","x":2.0,"y":1.2},
      {"t":"AIT","x":1.1,"y":0.5},{"t":"AIT","x":1.7,"y":0.2},{"t":"AIT","x":2.3,"y":0.5},{"t":"AIT","x":3.0,"y":1.5},
      {"t":"AIT","x":3.5,"y":2.3},{"t":"AIT","x":2.8,"y":2.0},{"t":"AIT","x":1.3,"y":2.2},{"t":"AIT","x":1.0,"y":-0.2},

      {"t":"IT","x":1.96,"y":5.2},{"t":"IT","x":1.95,"y":4.95},{"t":"IT","x":2.46,"y":4.7},{"t":"IT","x":1.96,"y":4.75},
      {"t":"IT","x":2.95,"y":4.5},{"t":"IT","x":2.95,"y":4.3},{"t":"IT","x":3.05,"y":4.4},{"t":"IT","x":2.83,"y":4.15},
      {"t":"IT","x":2.41,"y":4.07},{"t":"IT","x":1.87,"y":3.95},{"t":"IT","x":2.0,"y":3.95},{"t":"IT","x":2.68,"y":3.9},
      {"t":"IT","x":1.33,"y":3.0},{"t":"IT","x":1.45,"y":3.0},{"t":"IT","x":1.2,"y":2.5},{"t":"IT","x":2.77,"y":3.5},
      {"t":"IT","x":2.85,"y":3.5},{"t":"IT","x":3.13,"y":1.37},{"t":"IT","x":2.9,"y":1.4},{"t":"IT","x":0.79,"y":1.2},
      {"t":"IT","x":3.06,"y":1.3},{"t":"IT","x":0.7,"y":0.5},{"t":"IT","x":1.07,"y":-0.5},{"t":"IT","x":1.23,"y":-0.97},
      {"t":"IT","x":1.35,"y":-0.97},{"t":"IT","x":1.47,"y":-0.97},{"t":"IT","x":1.47,"y":-1.2},{"t":"IT","x":1.74,"y":-1.2},
      {"t":"IT","x":1.72,"y":-0.73},{"t":"IT","x":1.75,"y":-0.8},{"t":"IT","x":1.96,"y":-0.97},{"t":"IT","x":2.41,"y":-0.78},
      {"t":"IT","x":2.28,"y":-0.5},{"t":"IT","x":0.67,"y":1.0},{"t":"IT","x":0.78,"y":1.25},
      {"t":"IT","x":1.0,"y":1.8},{"t":"IT","x":1.2,"y":1.4},{"t":"IT","x":1.4,"y":1.1},{"t":"IT","x":1.6,"y":0.8},
      {"t":"IT","x":1.8,"y":0.4},{"t":"IT","x":2.0,"y":0.1},{"t":"IT","x":1.1,"y":0.3},{"t":"IT","x":1.3,"y":0.7},
      {"t":"IT","x":1.5,"y":0.2},{"t":"IT","x":1.7,"y":-0.2},{"t":"IT","x":1.9,"y":0.6},{"t":"IT","x":2.1,"y":1.0},
      {"t":"IT","x":2.3,"y":1.3},{"t":"IT","x":2.5,"y":1.6},{"t":"IT","x":1.2,"y":2.1},{"t":"IT","x":1.6,"y":2.4},
      {"t":"IT","x":2.0,"y":2.0},{"t":"IT","x":2.4,"y":0.8},{"t":"IT","x":2.6,"y":1.1},{"t":"IT","x":2.2,"y":2.6},
      {"t":"IT","x":1.4,"y":1.8},{"t":"IT","x":0.9,"y":0.9},

      {"t":"ITcomm","x":2.05,"y":5.0},{"t":"ITcomm","x":2.16,"y":4.5},{"t":"ITcomm","x":1.47,"y":4.0},{"t":"ITcomm","x":2.68,"y":4.0},
      {"t":"ITcomm","x":2.55,"y":3.5},{"t":"ITcomm","x":2.7,"y":3.3},{"t":"ITcomm","x":1.14,"y":-0.2},{"t":"ITcomm","x":1.34,"y":-0.5},
      {"t":"ITcomm","x":2.1,"y":-0.2},{"t":"ITcomm","x":2.07,"y":-0.5},{"t":"ITcomm","x":2.79,"y":0.73},{"t":"ITcomm","x":2.55,"y":0.6},
      {"t":"ITcomm","x":1.0,"y":0.0},{"t":"ITcomm","x":1.2,"y":0.05},{"t":"ITcomm","x":1.4,"y":0.0},{"t":"ITcomm","x":1.6,"y":0.05},
      {"t":"ITcomm","x":1.8,"y":0.0},{"t":"ITcomm","x":2.0,"y":0.05},{"t":"ITcomm","x":2.2,"y":0.0},{"t":"ITcomm","x":2.4,"y":0.1},
      {"t":"ITcomm","x":0.95,"y":0.5},{"t":"ITcomm","x":1.15,"y":0.45},{"t":"ITcomm","x":1.35,"y":0.5},{"t":"ITcomm","x":1.55,"y":0.55},
      {"t":"ITcomm","x":1.75,"y":0.5},{"t":"ITcomm","x":1.95,"y":0.45},{"t":"ITcomm","x":2.15,"y":0.5},{"t":"ITcomm","x":2.35,"y":0.55},
      {"t":"ITcomm","x":2.6,"y":0.5},{"t":"ITcomm","x":0.9,"y":1.0},{"t":"ITcomm","x":1.1,"y":1.0},{"t":"ITcomm","x":1.3,"y":1.05},
      {"t":"ITcomm","x":1.5,"y":1.0},{"t":"ITcomm","x":1.7,"y":0.95},{"t":"ITcomm","x":1.9,"y":1.0},{"t":"ITcomm","x":2.1,"y":1.05},
      {"t":"ITcomm","x":2.3,"y":1.0},{"t":"ITcomm","x":2.5,"y":1.0},{"t":"ITcomm","x":1.0,"y":1.5},{"t":"ITcomm","x":1.2,"y":1.45},
      {"t":"ITcomm","x":1.4,"y":1.5},{"t":"ITcomm","x":1.6,"y":1.55},{"t":"ITcomm","x":1.8,"y":1.5},{"t":"ITcomm","x":2.0,"y":1.45},
      {"t":"ITcomm","x":2.2,"y":1.5},{"t":"ITcomm","x":2.4,"y":1.55},{"t":"ITcomm","x":1.1,"y":2.0},{"t":"ITcomm","x":1.3,"y":2.05},
      {"t":"ITcomm","x":1.5,"y":2.0},{"t":"ITcomm","x":1.7,"y":1.95},{"t":"ITcomm","x":1.9,"y":2.0},{"t":"ITcomm","x":2.1,"y":2.05},
      {"t":"ITcomm","x":2.3,"y":2.0},{"t":"ITcomm","x":1.2,"y":2.5},{"t":"ITcomm","x":1.5,"y":2.45},{"t":"ITcomm","x":1.8,"y":2.5},
      {"t":"ITcomm","x":2.1,"y":2.5},{"t":"ITcomm","x":2.4,"y":2.45},{"t":"ITcomm","x":2.6,"y":2.3},{"t":"ITcomm","x":1.05,"y":0.25},
      {"t":"ITcomm","x":1.45,"y":0.25},{"t":"ITcomm","x":1.85,"y":0.25},{"t":"ITcomm","x":2.25,"y":0.3},{"t":"ITcomm","x":1.25,"y":0.75},
      {"t":"ITcomm","x":1.65,"y":0.75},{"t":"ITcomm","x":2.05,"y":0.75},{"t":"ITcomm","x":2.45,"y":0.8},{"t":"ITcomm","x":1.15,"y":1.25},
      {"t":"ITcomm","x":1.55,"y":1.25},{"t":"ITcomm","x":1.95,"y":1.25},{"t":"ITcomm","x":2.35,"y":1.25},{"t":"ITcomm","x":1.35,"y":1.75},
      {"t":"ITcomm","x":1.75,"y":1.75},{"t":"ITcomm","x":2.15,"y":1.75},{"t":"ITcomm","x":1.2,"y":-0.3},{"t":"ITcomm","x":1.6,"y":-0.25},
      {"t":"ITcomm","x":2.0,"y":-0.3},{"t":"ITcomm","x":1.3,"y":-0.5},{"t":"ITcomm","x":1.0,"y":-0.4},{"t":"ITcomm","x":2.5,"y":0.2},
      {"t":"ITcomm","x":2.7,"y":1.4},{"t":"ITcomm","x":2.8,"y":1.8},{"t":"ITcomm","x":0.9,"y":2.3},

      {"t":"AITstrong","x":2.28,"y":5.0},{"t":"AITstrong","x":2.45,"y":5.0},{"t":"AITstrong","x":2.61,"y":5.0},{"t":"AITstrong","x":2.45,"y":2.9},
      {"t":"AITstrong","x":2.3,"y":3.0},{"t":"AITstrong","x":2.3,"y":3.3},{"t":"AITstrong","x":2.6,"y":1.0},{"t":"AITstrong","x":2.2,"y":2.6},
      {"t":"AITstrong","x":2.7,"y":2.4},{"t":"AITstrong","x":1.9,"y":2.2},{"t":"AITstrong","x":2.5,"y":2.2},{"t":"AITstrong","x":2.35,"y":1.0},

      {"t":"AIT4","x":0.72,"y":5.0},{"t":"AIT4","x":0.72,"y":3.75},{"t":"AIT4","x":0.72,"y":2.83},{"t":"AIT4","x":0.72,"y":2.5},
      {"t":"AIT4","x":0.32,"y":3.0},{"t":"AIT4","x":0.32,"y":2.5},{"t":"AIT4","x":0.32,"y":2.33},{"t":"AIT4","x":-0.08,"y":2.57},
      {"t":"AIT4","x":-0.08,"y":2.5},{"t":"AIT4","x":-0.08,"y":1.98},{"t":"AIT4","x":-0.08,"y":1.0},{"t":"AIT4","x":0.32,"y":1.0},
      {"t":"AIT4","x":0.32,"y":0.5},{"t":"AIT4","x":-0.08,"y":-0.9},{"t":"AIT4","x":0.7,"y":1.0},{"t":"AIT4","x":1.05,"y":4.8},
      {"t":"AIT4","x":1.28,"y":5.1},{"t":"AIT4","x":2.55,"y":5.1},{"t":"AIT4","x":1.8,"y":4.5},{"t":"AIT4","x":2.68,"y":4.5},
      {"t":"AIT4","x":3.14,"y":4.0},{"t":"AIT4","x":1.07,"y":3.6},{"t":"AIT4","x":1.8,"y":3.65},{"t":"AIT4","x":2.28,"y":3.5},
      {"t":"AIT4","x":3.0,"y":3.68},{"t":"AIT4","x":3.43,"y":3.5},{"t":"AIT4","x":5.1,"y":4.9},{"t":"AIT4","x":1.25,"y":3.2},
      {"t":"AIT4","x":1.52,"y":3.2},{"t":"AIT4","x":0.74,"y":2.7},{"t":"AIT4","x":0.74,"y":2.6},{"t":"AIT4","x":4.46,"y":3.0},
      {"t":"AIT4","x":4.46,"y":2.2},{"t":"AIT4","x":4.46,"y":2.3},{"t":"AIT4","x":5.1,"y":3.0},{"t":"AIT4","x":5.1,"y":2.8},
      {"t":"AIT4","x":3.64,"y":2.68},{"t":"AIT4","x":3.7,"y":2.3},{"t":"AIT4","x":3.7,"y":2.1},{"t":"AIT4","x":3.65,"y":2.0},
      {"t":"AIT4","x":3.77,"y":1.0},{"t":"AIT4","x":4.52,"y":1.0},{"t":"AIT4","x":3.43,"y":1.0},{"t":"AIT4","x":3.3,"y":1.0},
      {"t":"AIT4","x":3.43,"y":-0.17},{"t":"AIT4","x":2.77,"y":-0.67},{"t":"AIT4","x":2.41,"y":-1.19},{"t":"AIT4","x":2.23,"y":-1.47},
      {"t":"AIT4","x":2.54,"y":-1.78},{"t":"AIT4","x":3.0,"y":-1.88},{"t":"AIT4","x":1.52,"y":-1.98},{"t":"AIT4","x":1.92,"y":-0.98},
      {"t":"AIT4","x":2.41,"y":-0.5},{"t":"AIT4","x":2.8,"y":-0.2},{"t":"AIT4","x":2.9,"y":-0.2},{"t":"AIT4","x":2.5,"y":0.1},
      {"t":"AIT4","x":2.3,"y":-0.1},{"t":"AIT4","x":2.65,"y":0.0},{"t":"AIT4","x":0.9,"y":3.0},{"t":"AIT4","x":0.75,"y":2.4},
      {"t":"AIT4","x":0.75,"y":2.2},{"t":"AIT4","x":0.75,"y":2.0},{"t":"AIT4","x":0.8,"y":1.8},{"t":"AIT4","x":0.8,"y":1.5},
      {"t":"AIT4","x":0.85,"y":1.0},{"t":"AIT4","x":1.1,"y":1.0},{"t":"AIT4","x":1.35,"y":1.0},{"t":"AIT4","x":1.6,"y":1.0},
      {"t":"AIT4","x":1.85,"y":1.0},{"t":"AIT4","x":2.1,"y":1.0},{"t":"AIT4","x":2.35,"y":1.0},{"t":"AIT4","x":2.6,"y":1.0},
      {"t":"AIT4","x":2.85,"y":1.0},{"t":"AIT4","x":3.1,"y":1.0},
      {"t":"AIT4","x":1.0,"y":1.6},{"t":"AIT4","x":1.25,"y":1.55},{"t":"AIT4","x":1.5,"y":1.6},{"t":"AIT4","x":1.75,"y":1.5},
      {"t":"AIT4","x":2.0,"y":1.55},{"t":"AIT4","x":2.25,"y":1.6},{"t":"AIT4","x":2.5,"y":1.5},{"t":"AIT4","x":2.75,"y":1.55},
      {"t":"AIT4","x":3.0,"y":1.6},{"t":"AIT4","x":3.25,"y":1.5},{"t":"AIT4","x":3.45,"y":1.55},
      {"t":"AIT4","x":0.9,"y":2.0},{"t":"AIT4","x":1.15,"y":1.95},{"t":"AIT4","x":1.4,"y":2.0},{"t":"AIT4","x":1.65,"y":2.05},
      {"t":"AIT4","x":1.9,"y":2.0},{"t":"AIT4","x":2.15,"y":1.95},{"t":"AIT4","x":2.4,"y":2.0},{"t":"AIT4","x":2.65,"y":2.05},
      {"t":"AIT4","x":2.9,"y":2.0},{"t":"AIT4","x":3.15,"y":1.95},{"t":"AIT4","x":3.4,"y":2.0},
      {"t":"AIT4","x":1.0,"y":2.5},{"t":"AIT4","x":1.25,"y":2.45},{"t":"AIT4","x":1.5,"y":2.5},{"t":"AIT4","x":1.75,"y":2.55},
      {"t":"AIT4","x":2.0,"y":2.5},{"t":"AIT4","x":2.25,"y":2.45},{"t":"AIT4","x":2.5,"y":2.5},{"t":"AIT4","x":2.75,"y":2.55},
      {"t":"AIT4","x":3.0,"y":2.5},{"t":"AIT4","x":3.25,"y":2.45},{"t":"AIT4","x":3.45,"y":2.5},
      {"t":"AIT4","x":0.95,"y":3.0},{"t":"AIT4","x":1.2,"y":2.95},{"t":"AIT4","x":1.45,"y":3.0},{"t":"AIT4","x":1.7,"y":3.05},
      {"t":"AIT4","x":1.95,"y":3.0},{"t":"AIT4","x":2.2,"y":2.95},{"t":"AIT4","x":2.45,"y":3.0},{"t":"AIT4","x":2.7,"y":3.05},
      {"t":"AIT4","x":2.95,"y":3.0},{"t":"AIT4","x":3.2,"y":2.95},
      {"t":"AIT4","x":1.1,"y":1.75},{"t":"AIT4","x":1.6,"y":1.8},{"t":"AIT4","x":2.1,"y":1.75},{"t":"AIT4","x":2.6,"y":1.8},
      {"t":"AIT4","x":3.1,"y":1.75},{"t":"AIT4","x":1.1,"y":2.25},{"t":"AIT4","x":1.6,"y":2.25},{"t":"AIT4","x":2.1,"y":2.2},
      {"t":"AIT4","x":2.6,"y":2.25},{"t":"AIT4","x":3.1,"y":2.25},{"t":"AIT4","x":1.35,"y":2.75},{"t":"AIT4","x":1.85,"y":2.75},
      {"t":"AIT4","x":2.35,"y":2.7},{"t":"AIT4","x":2.85,"y":2.75},{"t":"AIT4","x":3.3,"y":2.75},{"t":"AIT4","x":0.9,"y":1.25},
      {"t":"AIT4","x":1.4,"y":1.25},{"t":"AIT4","x":1.9,"y":1.3},{"t":"AIT4","x":2.4,"y":1.25},{"t":"AIT4","x":2.9,"y":1.25},
      {"t":"AIT4","x":3.3,"y":1.3},

      {"t":"PLT","x":2.4,"y":3.2},{"t":"PLT","x":2.56,"y":3.22},{"t":"PLT","x":2.7,"y":3.18},
      {"t":"PLT","x":2.1,"y":3.05},{"t":"PLT","x":2.26,"y":3.03},{"t":"PLT","x":2.4,"y":3.07},{"t":"PLT","x":2.55,"y":3.04},{"t":"PLT","x":2.71,"y":3.06},{"t":"PLT","x":2.85,"y":3.02},
      {"t":"PLT","x":1.95,"y":2.9},{"t":"PLT","x":2.1,"y":2.88},{"t":"PLT","x":2.24,"y":2.92},{"t":"PLT","x":2.4,"y":2.9},{"t":"PLT","x":2.56,"y":2.87},{"t":"PLT","x":2.7,"y":2.91},{"t":"PLT","x":2.86,"y":2.9},{"t":"PLT","x":3.0,"y":2.88},
      {"t":"PLT","x":1.9,"y":2.75},{"t":"PLT","x":2.05,"y":2.77},{"t":"PLT","x":2.2,"y":2.73},{"t":"PLT","x":2.35,"y":2.76},{"t":"PLT","x":2.5,"y":2.74},{"t":"PLT","x":2.66,"y":2.77},{"t":"PLT","x":2.8,"y":2.73},{"t":"PLT","x":2.95,"y":2.76},{"t":"PLT","x":3.1,"y":2.74},
      {"t":"PLT","x":1.85,"y":2.6},{"t":"PLT","x":2.0,"y":2.62},{"t":"PLT","x":2.15,"y":2.58},{"t":"PLT","x":2.3,"y":2.61},{"t":"PLT","x":2.45,"y":2.6},{"t":"PLT","x":2.6,"y":2.63},{"t":"PLT","x":2.75,"y":2.59},{"t":"PLT","x":2.9,"y":2.61},{"t":"PLT","x":3.05,"y":2.6},{"t":"PLT","x":3.15,"y":2.62},
      {"t":"PLT","x":1.9,"y":2.45},{"t":"PLT","x":2.05,"y":2.43},{"t":"PLT","x":2.2,"y":2.47},{"t":"PLT","x":2.35,"y":2.44},{"t":"PLT","x":2.5,"y":2.46},{"t":"PLT","x":2.65,"y":2.43},{"t":"PLT","x":2.8,"y":2.47},{"t":"PLT","x":2.95,"y":2.45},{"t":"PLT","x":3.1,"y":2.43},
      {"t":"PLT","x":1.95,"y":2.3},{"t":"PLT","x":2.1,"y":2.32},{"t":"PLT","x":2.25,"y":2.28},{"t":"PLT","x":2.4,"y":2.31},{"t":"PLT","x":2.55,"y":2.29},{"t":"PLT","x":2.7,"y":2.32},{"t":"PLT","x":2.85,"y":2.3},{"t":"PLT","x":3.0,"y":2.28},
      {"t":"PLT","x":2.1,"y":2.15},{"t":"PLT","x":2.25,"y":2.17},{"t":"PLT","x":2.4,"y":2.13},{"t":"PLT","x":2.55,"y":2.16},{"t":"PLT","x":2.7,"y":2.14},{"t":"PLT","x":2.85,"y":2.16},
      {"t":"PLT","x":2.3,"y":2.0},{"t":"PLT","x":2.45,"y":2.02},{"t":"PLT","x":2.6,"y":1.98},
      {"t":"PLT","x":2.18,"y":2.95},{"t":"PLT","x":2.33,"y":2.97},{"t":"PLT","x":2.48,"y":2.98},{"t":"PLT","x":2.63,"y":2.97},{"t":"PLT","x":2.78,"y":2.96},
      {"t":"PLT","x":2.02,"y":2.82},{"t":"PLT","x":2.17,"y":2.83},{"t":"PLT","x":2.32,"y":2.84},{"t":"PLT","x":2.47,"y":2.82},{"t":"PLT","x":2.62,"y":2.83},{"t":"PLT","x":2.78,"y":2.84},{"t":"PLT","x":2.93,"y":2.82},
      {"t":"PLT","x":1.97,"y":2.68},{"t":"PLT","x":2.12,"y":2.67},{"t":"PLT","x":2.27,"y":2.69},{"t":"PLT","x":2.42,"y":2.67},{"t":"PLT","x":2.57,"y":2.68},{"t":"PLT","x":2.72,"y":2.69},{"t":"PLT","x":2.87,"y":2.67},{"t":"PLT","x":3.02,"y":2.68},
      {"t":"PLT","x":1.97,"y":2.52},{"t":"PLT","x":2.12,"y":2.53},{"t":"PLT","x":2.27,"y":2.52},{"t":"PLT","x":2.42,"y":2.54},{"t":"PLT","x":2.57,"y":2.52},{"t":"PLT","x":2.72,"y":2.53},{"t":"PLT","x":2.87,"y":2.52},{"t":"PLT","x":3.02,"y":2.53},
      {"t":"PLT","x":2.02,"y":2.38},{"t":"PLT","x":2.17,"y":2.37},{"t":"PLT","x":2.32,"y":2.39},{"t":"PLT","x":2.47,"y":2.37},{"t":"PLT","x":2.62,"y":2.38},{"t":"PLT","x":2.77,"y":2.39},{"t":"PLT","x":2.92,"y":2.37},
      {"t":"PLT","x":2.17,"y":2.22},{"t":"PLT","x":2.32,"y":2.23},{"t":"PLT","x":2.47,"y":2.22},{"t":"PLT","x":2.62,"y":2.23},{"t":"PLT","x":2.77,"y":2.22},
      {"t":"PLT","x":2.4,"y":2.08},{"t":"PLT","x":2.55,"y":2.08},
      {"t":"PLT","x":2.75,"y":3.5},{"t":"PLT","x":2.74,"y":3.3},{"t":"PLT","x":2.0,"y":1.8},{"t":"PLT","x":2.1,"y":1.75},
      {"t":"PLT","x":1.95,"y":1.55},{"t":"PLT","x":2.41,"y":0.28},{"t":"PLT","x":2.23,"y":0.0},{"t":"PLT","x":2.4,"y":0.0},
      {"t":"PLT","x":2.55,"y":0.05},{"t":"PLT","x":2.6,"y":0.0},{"t":"PLT","x":2.7,"y":0.0},{"t":"PLT","x":2.5,"y":0.15},
      {"t":"PLT","x":2.65,"y":3.45}
    ],
    "la": [
      {"t":"IT","x":-2.29,"y":-1.64},{"t":"IT","x":5.28,"y":5.93},
      {"t":"ITcomm","x":-2.29,"y":-2.19},{"t":"ITcomm","x":5.28,"y":7.55},
      {"t":"AIT","x":-2.29,"y":0.57},{"t":"AIT","x":5.28,"y":1.92},
      {"t":"AITstrong","x":-2.29,"y":0.99},{"t":"AITstrong","x":5.28,"y":3.49},
      {"t":"PLT","x":-2.29,"y":1.4},{"t":"PLT","x":5.28,"y":3.18},
      {"t":"AIT4","x":-2.29,"y":1.58},{"t":"AIT4","x":5.28,"y":2.68}
    ],
    "lb": [
      {"t":"IT","x":-2.27,"y":-2.0},{"t":"IT","x":5.19,"y":4.64},
      {"t":"ITcomm","x":-2.27,"y":-2.33},{"t":"ITcomm","x":5.19,"y":5.16},
      {"t":"AIT","x":-2.27,"y":0.43},{"t":"AIT","x":5.19,"y":2.72},
      {"t":"AITstrong","x":-2.27,"y":1.5},{"t":"AITstrong","x":5.19,"y":3.02},
      {"t":"PLT","x":-2.27,"y":1.61},{"t":"PLT","x":5.19,"y":2.99},
      {"t":"AIT4","x":-2.27,"y":1.75},{"t":"AIT4","x":5.19,"y":2.77}
    ],
    "diag": [{"x":-2.3,"y":-2.3},{"x":5.3,"y":5.3}]
  },
  "hconcat": [
    {
      "width": 415,
      "height": 346,
      "title": {"text": "(a) First half of the experiment (t < 31)", "orient": "bottom", "anchor": "middle", "offset": 33, "dx": -28},
      "encoding": {
        "x": {"field": "x", "type": "quantitative", "scale": {"domain": [-2.29, 5.28], "nice": false, "zero": false},
              "axis": {"values": [-2,-1,0,1,2,3,4,5], "labelExpr": "'' + datum.value", "title": "Last observed inflation", "labelPadding": 11, "titlePadding": 27}},
        "y": {"field": "y", "type": "quantitative", "scale": {"domain": [-2.29, 5.3], "nice": false, "zero": false},
              "axis": {"values": [-2,-1,0,1,2,3,4,5], "labelExpr": "'' + datum.value", "labelAngle": -90, "labelAlign": "center", "labelBaseline": "bottom", "labelPadding": 12, "title": "Long-run forecasts", "titlePadding": 24}}
      },
      "layer": [
        {
          "data": {"name": "a"},
          "mark": {"type": "point", "filled": false, "strokeWidth": 1.4},
          "encoding": {
            "color": {"field": "t", "type": "nominal", "scale": {"domain": ["IT","ITcomm","AIT","AITstrong","PLT","AIT4"], "range": ["#0000FF","#FFA500","#000000","#FF0000","#8B0000","#458B74"]},
              "legend": {"labelExpr": "'Tr. ' + datum.label"}},
            "shape": {"field": "t", "type": "nominal", "scale": {"domain": ["IT","ITcomm","AIT","AITstrong","PLT","AIT4"], "range": ["M-1,0H1M0,-1V1","triangle-up","circle","triangle-up","diamond","square"]},
              "legend": {"labelExpr": "'Tr. ' + datum.label"}},
            "size": {"field": "t", "type": "nominal", "scale": {"domain": ["IT","ITcomm","AIT","AITstrong","PLT","AIT4"], "range": [100,80,64,80,90,49]}, "legend": null},
            "opacity": {"field": "t", "type": "nominal", "scale": {"domain": ["IT","ITcomm","AIT","AITstrong","PLT","AIT4"], "range": [1,1,1,1,1,0.75]}, "legend": null}
          }
        },
        {"data": {"name": "la"}, "transform": [{"filter": "datum.t === 'IT'"}], "mark": {"type": "line", "clip": true, "color": "#0000FF", "strokeWidth": 2}, "encoding": {}},
        {"data": {"name": "la"}, "transform": [{"filter": "datum.t === 'ITcomm'"}], "mark": {"type": "line", "clip": true, "color": "#FFA500", "strokeWidth": 3.5}, "encoding": {}},
        {"data": {"name": "la"}, "transform": [{"filter": "datum.t === 'AIT'"}], "mark": {"type": "line", "clip": true, "color": "#000000", "strokeWidth": 1.6}, "encoding": {}},
        {"data": {"name": "la"}, "transform": [{"filter": "datum.t === 'AITstrong'"}], "mark": {"type": "line", "clip": true, "color": "#FF0000", "strokeWidth": 3.5, "strokeDash": [5,7]}, "encoding": {}},
        {"data": {"name": "la"}, "transform": [{"filter": "datum.t === 'PLT'"}], "mark": {"type": "line", "clip": true, "color": "#8B0000", "strokeWidth": 3.5, "strokeDash": [15,7]}, "encoding": {}},
        {"data": {"name": "la"}, "transform": [{"filter": "datum.t === 'AIT4'"}], "mark": {"type": "line", "clip": true, "color": "#458B74", "strokeWidth": 3.5, "strokeDash": [5,8]}, "encoding": {}},
        {"data": {"name": "diag"}, "mark": {"type": "line", "clip": true, "color": "#BEBEBE", "strokeDash": [3,6], "strokeWidth": 2}, "encoding": {}}
      ]
    },
    {
      "width": 411,
      "height": 346,
      "title": {"text": "(b) Second half of the experiment (t > 30)", "orient": "bottom", "anchor": "middle", "offset": 29, "dx": -32},
      "encoding": {
        "x": {"field": "x", "type": "quantitative", "scale": {"domain": [-2.27, 5.19], "nice": false, "zero": false},
              "axis": {"values": [-2,-1,0,1,2,3,4,5], "labelExpr": "'' + datum.value", "title": "Last observed inflation", "labelPadding": 11, "titlePadding": 27}},
        "y": {"field": "y", "type": "quantitative", "scale": {"domain": [-2.29, 5.52], "nice": false, "zero": false},
              "axis": {"values": [-2,-1,0,1,2,3,4,5], "labelExpr": "'' + datum.value", "labelAngle": -90, "labelAlign": "center", "labelBaseline": "bottom", "labelPadding": 12, "title": "Long-run forecasts", "titlePadding": 27}}
      },
      "layer": [
        {
          "data": {"name": "b"},
          "mark": {"type": "point", "filled": false, "strokeWidth": 1.4},
          "encoding": {
            "color": {"field": "t", "type": "nominal", "scale": {"domain": ["IT","ITcomm","AIT","AITstrong","PLT","AIT4"], "range": ["#0000FF","#FFA500","#000000","#FF0000","#8B0000","#458B74"]},
              "legend": {"labelExpr": "'Tr. ' + datum.label"}},
            "shape": {"field": "t", "type": "nominal", "scale": {"domain": ["IT","ITcomm","AIT","AITstrong","PLT","AIT4"], "range": ["M-1,0H1M0,-1V1","triangle-up","circle","triangle-up","diamond","square"]},
              "legend": {"labelExpr": "'Tr. ' + datum.label"}},
            "size": {"field": "t", "type": "nominal", "scale": {"domain": ["IT","ITcomm","AIT","AITstrong","PLT","AIT4"], "range": [100,80,64,80,90,49]}, "legend": null},
            "opacity": {"field": "t", "type": "nominal", "scale": {"domain": ["IT","ITcomm","AIT","AITstrong","PLT","AIT4"], "range": [1,1,1,1,1,0.75]}, "legend": null}
          }
        },
        {"data": {"name": "lb"}, "transform": [{"filter": "datum.t === 'IT'"}], "mark": {"type": "line", "clip": true, "color": "#0000FF", "strokeWidth": 2}, "encoding": {}},
        {"data": {"name": "lb"}, "transform": [{"filter": "datum.t === 'ITcomm'"}], "mark": {"type": "line", "clip": true, "color": "#FFA500", "strokeWidth": 3.5}, "encoding": {}},
        {"data": {"name": "lb"}, "transform": [{"filter": "datum.t === 'AIT'"}], "mark": {"type": "line", "clip": true, "color": "#000000", "strokeWidth": 1.6}, "encoding": {}},
        {"data": {"name": "lb"}, "transform": [{"filter": "datum.t === 'AITstrong'"}], "mark": {"type": "line", "clip": true, "color": "#FF0000", "strokeWidth": 3.5, "strokeDash": [5,7]}, "encoding": {}},
        {"data": {"name": "lb"}, "transform": [{"filter": "datum.t === 'PLT'"}], "mark": {"type": "line", "clip": true, "color": "#8B0000", "strokeWidth": 3.5, "strokeDash": [15,7]}, "encoding": {}},
        {"data": {"name": "lb"}, "transform": [{"filter": "datum.t === 'AIT4'"}], "mark": {"type": "line", "clip": true, "color": "#458B74", "strokeWidth": 3.5, "strokeDash": [5,8]}, "encoding": {}},
        {"data": {"name": "diag"}, "mark": {"type": "line", "clip": true, "color": "#BEBEBE", "strokeDash": [3,6], "strokeWidth": 2}, "encoding": {}}
      ]
    }
  ]
}
